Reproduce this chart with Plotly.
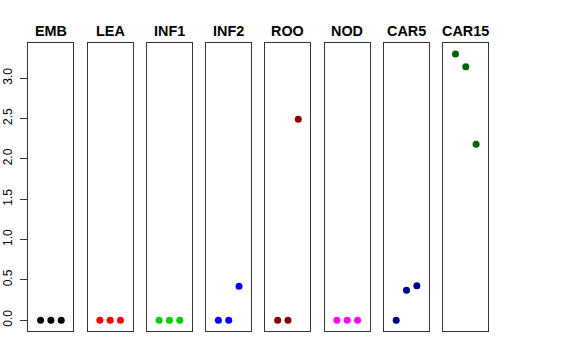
import plotly.graph_objects as go

groups = ["EMB", "LEA", "INF1", "INF2", "ROO", "NOD", "CAR5", "CAR15"]
values = {
    "EMB": [0.0, 0.0, 0.0],
    "LEA": [0.0, 0.0, 0.0],
    "INF1": [0.0, 0.0, 0.0],
    "INF2": [0.0, 0.0, 0.42],
    "ROO": [0.0, 0.0, 2.49],
    "NOD": [0.0, 0.0, 0.0],
    "CAR5": [0.0, 0.37, 0.425],
    "CAR15": [3.30, 3.14, 2.18],
}
colors = ["#000000", "#FF0000", "#00CD00", "#0000FF", "#8B0000", "#FF00FF", "#00008B", "#006400"]
reps = [1, 2, 3]
yticks = [0.0, 0.5, 1.0, 1.5, 2.0, 2.5, 3.0]

W, H = 576, 360
left0, step, pw = 28.4, 59.27, 45.0
top, bottom = 43.3, 330.8
ydom = [1 - bottom / H, 1 - top / H]

fig = go.Figure()
layout = dict(
    width=W, height=H, margin=dict(l=0, r=0, t=0, b=0),
    paper_bgcolor="white", plot_bgcolor="white", showlegend=False,
    font=dict(family="Liberation Sans, Arial, sans-serif", size=12, color="black"),
)
annotations = []
for i, g in enumerate(groups):
    xa = "x" if i == 0 else f"x{i+1}"
    ya = "y" if i == 0 else f"y{i+1}"
    fig.add_trace(go.Scatter(
        x=reps, y=values[g], mode="markers", xaxis=xa, yaxis=ya,
        marker=dict(color=colors[i], size=7, line=dict(width=0)),
        hoverinfo="skip",
    ))
    l = left0 + step * i
    xdom = [l / W, (l + pw) / W]
    xkey = "xaxis" if i == 0 else f"xaxis{i+1}"
    ykey = "yaxis" if i == 0 else f"yaxis{i+1}"
    layout[xkey] = dict(
        domain=xdom, range=[-0.18, 4.18], anchor=ya,
        showline=True, mirror=True, linecolor="#333333", linewidth=1,
        showgrid=False, zeroline=False, showticklabels=False, ticks="",
    )
    yax = dict(
        domain=ydom, range=[-0.132, 3.432], anchor=xa,
        showline=True, mirror=True, linecolor="#333333", linewidth=1,
        showgrid=False, zeroline=False,
    )
    if i == 0:
        yax.update(
            tickvals=yticks, ticktext=[f"{v:.1f}" for v in yticks],
            ticks="outside", ticklen=7, tickcolor="#333333", tickwidth=1,
            tickangle=-90, tickfont=dict(size=12, color="black"),
            ticklabelstandoff=4,
        )
    else:
        yax.update(showticklabels=False, ticks="", matches="y")
    layout[ykey] = yax
    annotations.append(dict(
        text=f"<b>{g}</b>", x=(l + pw / 2) / W, y=1 - 30.5 / H,
        xref="paper", yref="paper", xanchor="center", yanchor="middle",
        showarrow=False, font=dict(size=14.4, color="black"),
    ))
layout["annotations"] = annotations
fig.update_layout(**layout)
fig.write_html(
    "out.html",
    config={"displayModeBar": False},
    post_script="document.body.style.margin='0';document.body.style.overflow='hidden';",
)
